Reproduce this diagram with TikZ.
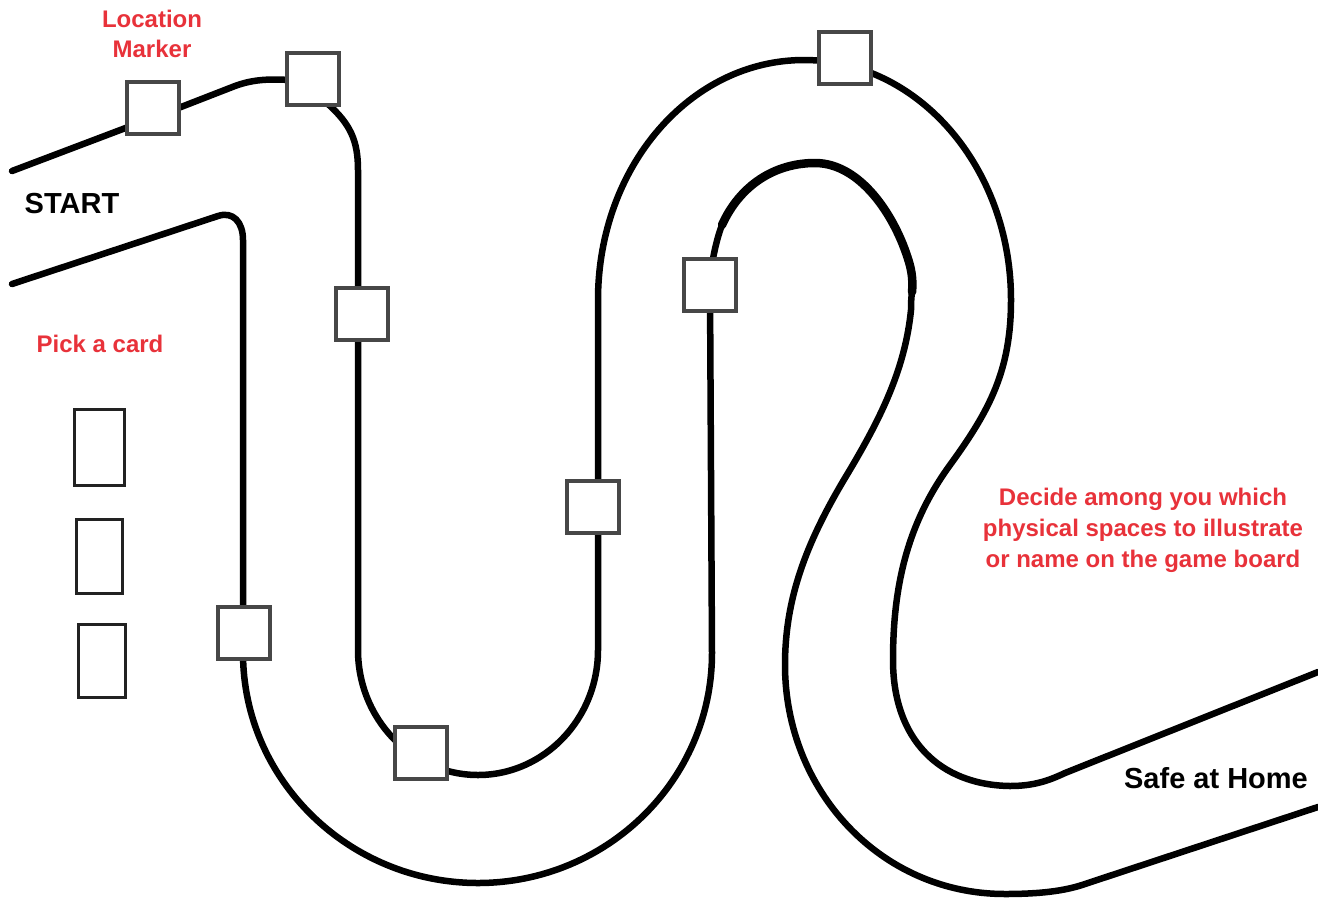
\documentclass[tikz,border=0pt]{standalone}
\usepackage{fontspec}
\setmainfont{Liberation Sans}
\definecolor{lblred}{HTML}{E8323A}
\definecolor{boxgray}{HTML}{474747}
\definecolor{cardgray}{HTML}{222222}
\pgfdeclarelayer{bg}
\pgfsetlayers{bg,main}
\begin{document}
\begin{tikzpicture}[x=1pt,y=-1pt,
  track/.style={line width=6.5pt, black, line join=round, line cap=round},
  marker/.style={draw=boxgray, line width=4pt, fill=white, minimum size=52pt, inner sep=0pt},
  card/.style={draw=cardgray, line width=2.6pt, fill=white, inner sep=0pt},
  redlbl/.style={text=lblred, font=\bfseries\fontsize{24}{30}\selectfont, align=center, inner sep=0pt},
  blklbl/.style={text=black, font=\bfseries\fontsize{29}{34}\selectfont, inner sep=0pt}]
\useasboundingbox (0,0) rectangle (1318,898);

% location markers
\node[marker] (m1) at (153,108) {};
\node[marker] (m2) at (313,79) {};
\node[marker] (m3) at (362,314) {};
\node[marker] (m4) at (244,633) {};
\node[marker] (m5) at (421,753) {};
\node[marker] (m6) at (593,507) {};
\node[marker] (m7) at (710,285) {};
\node[marker] (m8) at (845,58) {};

% cards
\node[card, minimum width=50.5pt, minimum height=76.5pt] (c1) at (99.5,447.5) {};
\node[card, minimum width=46.5pt, minimum height=74.5pt] (c2) at (99.5,556.5) {};
\node[card, minimum width=47.5pt, minimum height=73.5pt] (c3) at (102,661) {};

% labels
\node[redlbl] (loc) at (152,34) {Location\\Marker};
\node[blklbl, anchor=base] (start) at (72,213) {START};
\node[redlbl, anchor=base] (pick) at (100,352) {Pick a card};
\node[redlbl, font=\bfseries\fontsize{24}{31}\selectfont] (decide) at (1143,530)
  {Decide among you which\\physical spaces to illustrate\\or name on the game board};
\node[blklbl, anchor=base] (home) at (1216,788) {Safe at Home};

\begin{pgfonlayer}{bg}
\fill[white] (0,0) rectangle (1318,898);
% upper / outer edge of the track
\draw[track] (12,171) -- (181,107) -- (235,86)
  .. controls (254,79) and (270,79) .. (290,80) -- (m2.center) -- (328,104)
  .. controls (350,124) and (358,140) .. (358,170) -- (358,650)
  .. controls (358,719) and (412,775) .. (478,775)
  .. controls (544,775) and (598,719) .. (598,650) -- (598,300)
  .. controls (598,167) and (690,60) .. (804,60)
  .. controls (918,60) and (1011,167) .. (1011,300)
  .. controls (1011,370) and (990,410) .. (950,465)
  .. controls (910,520) and (893,580) .. (893,660)
  .. controls (893,740) and (940,785) .. (1010,786)
  .. controls (1035,786) and (1050,780) .. (1065,773) -- (1318,672);
% lower / inner edge of the track
\draw[track] (12,284) -- (218,216)
  .. controls (233,211) and (243,222) .. (243,240) -- (243,653)
  .. controls (243,780) and (349,883) .. (478,883)
  .. controls (607,883) and (712,780) .. (712,653) -- (710,290) -- (711,270)
  .. controls (714,252) and (717,238) .. (722,225)
  .. controls (740,185) and (775,163) .. (815,163)
  .. controls (860,163) and (895,215) .. (909,262)
  .. controls (912,272) and (913,282) .. (912,292)
  .. controls (911,300) and (911,305) .. (911,310)
  .. controls (905,370) and (880,420) .. (845,478)
  .. controls (805,545) and (785,600) .. (785,665)
  .. controls (785,790) and (880,894) .. (1005,894)
  .. controls (1040,894) and (1065,891) .. (1085,884) -- (1318,807);
% thicker stroke on the top of the inner arch
\draw[track, line width=8.5pt] (722,225)
  .. controls (740,185) and (775,163) .. (815,163)
  .. controls (860,163) and (895,215) .. (909,262)
  .. controls (912,272) and (913,282) .. (912,292);
\end{pgfonlayer}
\end{tikzpicture}
\end{document}
